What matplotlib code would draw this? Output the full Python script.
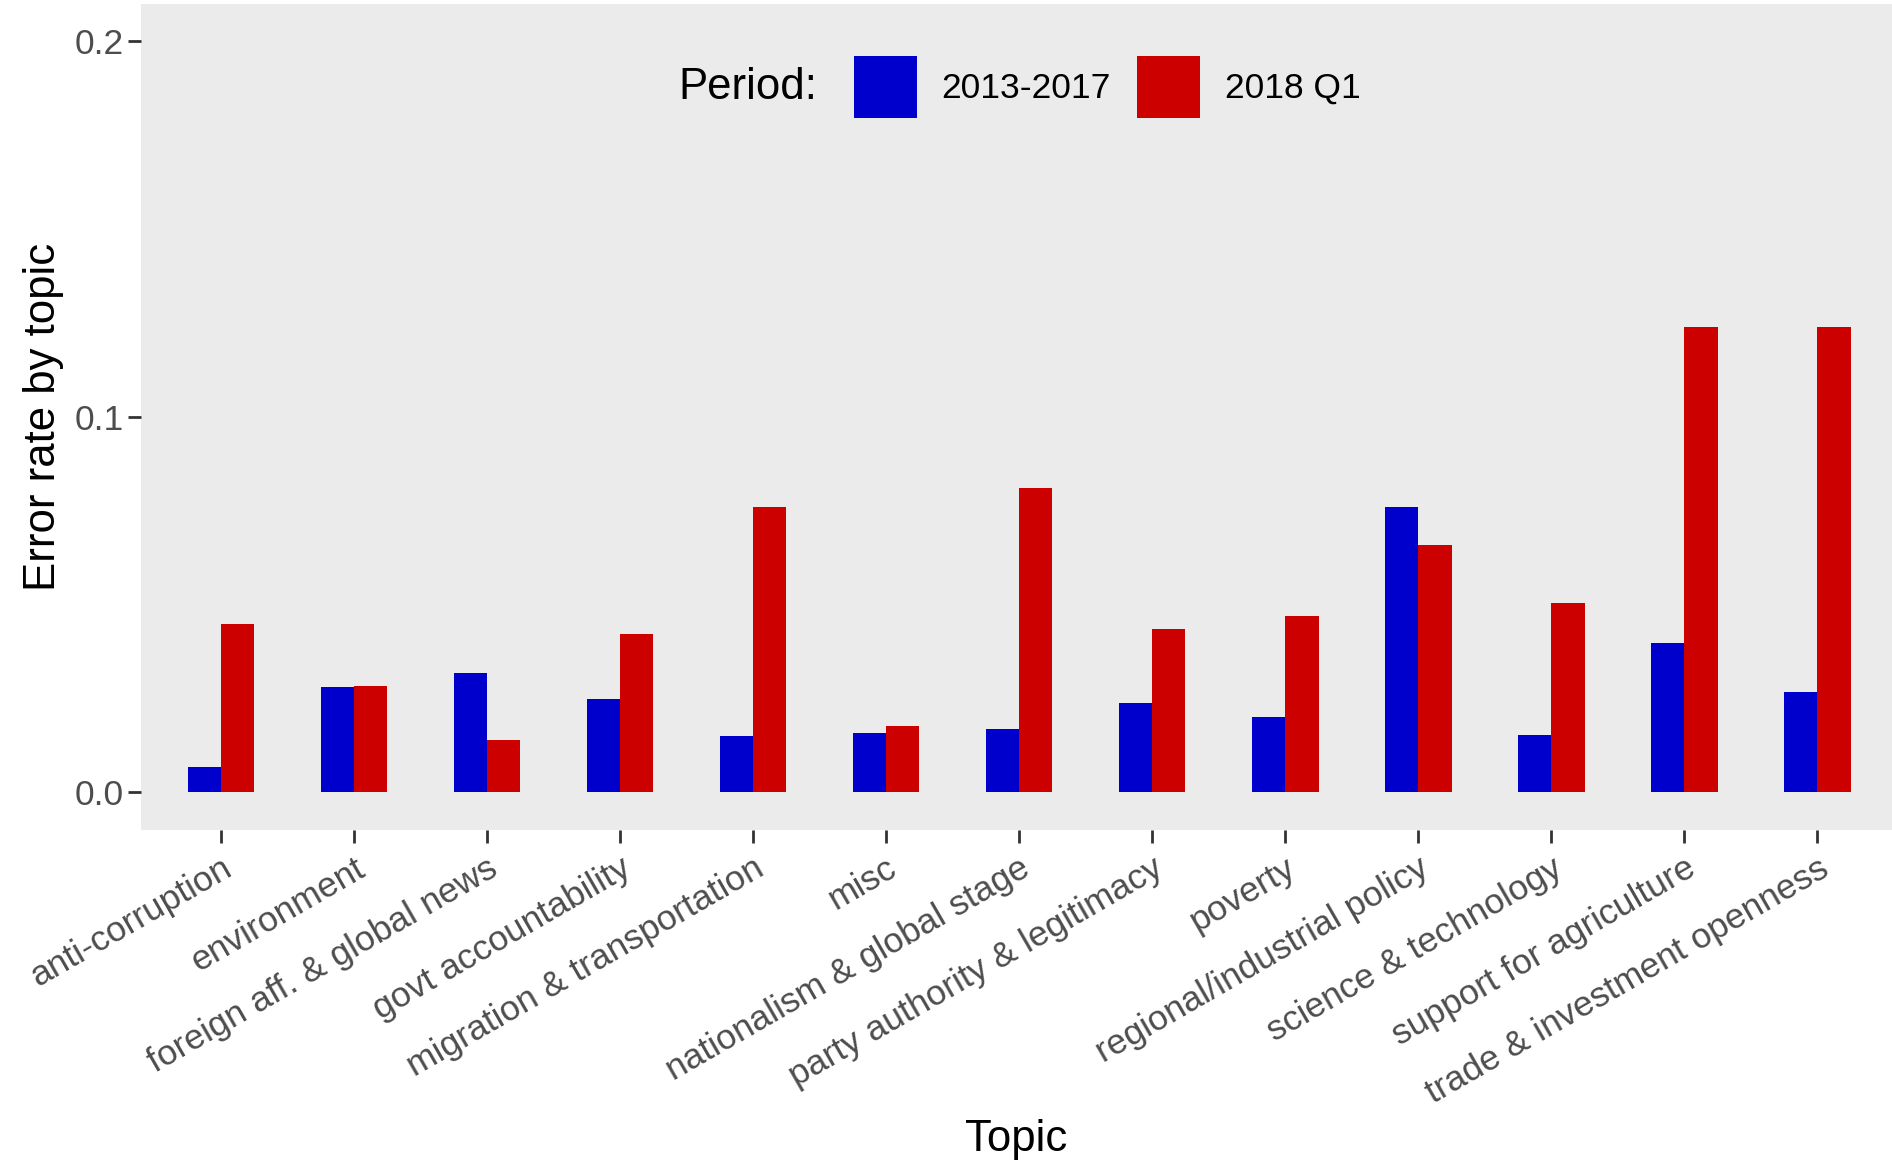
import numpy as np
import matplotlib
matplotlib.use("Agg")
import matplotlib.pyplot as plt
from matplotlib.patches import Patch

# --- data ---
topics = [
    "anti-corruption", "environment", "foreign aff. & global news",
    "govt accountability", "migration & transportation", "misc",
    "nationalism & global stage", "party authority & legitimacy", "poverty",
    "regional/industrial policy", "science & technology",
    "support for agriculture", "trade & investment openness",
]
err_2013_2017 = [0.0067, 0.0280, 0.0318, 0.0249, 0.0151, 0.0159, 0.0169,
                 0.0239, 0.0201, 0.0761, 0.0152, 0.0398, 0.0268]
err_2018_q1 = [0.0448, 0.0284, 0.0139, 0.0421, 0.0760, 0.0178, 0.0810,
               0.0435, 0.0470, 0.0660, 0.0503, 0.1238, 0.1238]
period_labels = ["2013-2017", "2018 Q1"]
y_ticks = [0.0, 0.1, 0.2]

# --- style ---
plt.rcParams['font.family'] = ['Liberation Sans', 'DejaVu Sans']
blue = '#0000CD'
red = '#CD0000'
panel_bg = '#EBEBEB'
tick_col = '#4D4D4D'

fig = plt.figure(figsize=(18.92, 11.62), dpi=100)
ax = fig.add_axes([141 / 1892, 1 - 830 / 1162, 1 - 141 / 1892, (830 - 3.6) / 1162])
ax.set_facecolor(panel_bg)

x = np.arange(len(topics))
w = 0.25
ax.bar(x - w / 2, err_2013_2017, width=w, color=blue, linewidth=0)
ax.bar(x + w / 2, err_2018_q1, width=w, color=red, linewidth=0)

ax.set_xlim(-0.6, 12.56)
ax.set_ylim(-0.01, 0.21)

for s in ax.spines.values():
    s.set_visible(False)

ax.set_yticks(y_ticks)
ax.set_yticklabels([f"{v:.1f}" for v in y_ticks])
ax.set_xticks(x)
ax.set_xticklabels(topics, rotation=30, ha='right', va='top', rotation_mode='anchor')
ax.tick_params(axis='both', colors='#333333', length=9.5, width=2.0,
               labelsize=25.5, labelcolor=tick_col, pad=3)
ax.tick_params(axis='x', pad=6)

ax.set_xlabel("Topic", fontsize=31.5, color='black')
ax.xaxis.set_label_coords(0.5, -0.350)
ax.set_ylabel("Error rate by topic", fontsize=31.5, color='black')
ax.yaxis.set_label_coords(-0.044, 0.5)

# legend across the top of the panel
handles = [Patch(facecolor=blue, edgecolor='none'),
           Patch(facecolor=red, edgecolor='none')]
leg = ax.legend(handles, period_labels, loc='center left',
                bbox_to_anchor=(0.4072, 0.899), ncol=2, frameon=False,
                fontsize=25.5, handlelength=1.78, handleheight=2.3,
                handletextpad=0.68, columnspacing=0.76, borderpad=0,
                borderaxespad=0)
ax.text(0.386, 0.899, "Period:", transform=ax.transAxes, ha='right',
        va='center', fontsize=31.5)

fig.savefig("out.png", dpi=100, facecolor='white')
